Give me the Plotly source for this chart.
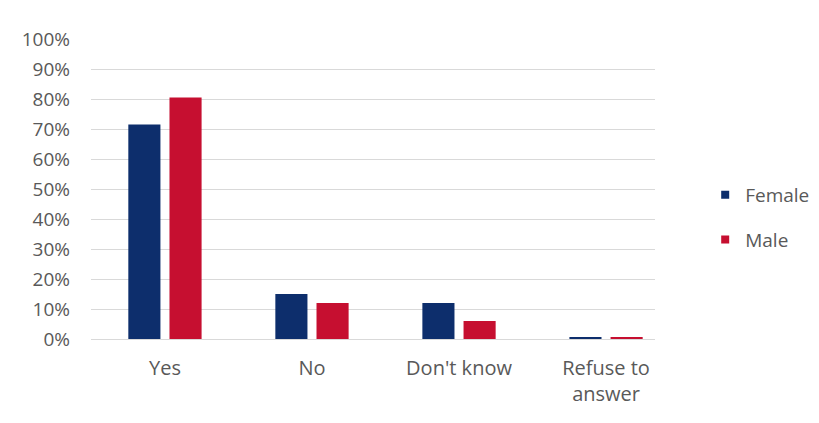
import plotly.graph_objects as go

categories = ["Yes", "No", "Don't know", "Refuse to<br>answer"]
female = [71.5, 15, 12, 0.7]
male = [80.5, 12, 6, 0.7]
y_ticks = list(range(0, 101, 10))
y_tick_labels = [f"{v}%" for v in y_ticks]

NAVY = "#0D2E6C"
RED = "#C60F30"
TEXT = "#595959"
FONT = "'Open Sans', Lato, sans-serif"

xs = list(range(len(categories)))

fig = go.Figure()
fig.add_trace(go.Bar(name="Female", x=xs, y=female, showlegend=False,
                     marker=dict(color=NAVY, line=dict(width=0))))
fig.add_trace(go.Bar(name="Male", x=xs, y=male, showlegend=False,
                     marker=dict(color=RED, line=dict(width=0))))

# small square legend keys
for name, color, grp in [("Female", NAVY, "f"), ("Male", RED, "m")]:
    fig.add_trace(go.Scatter(name=name, x=[None], y=[None], mode="markers",
                             marker=dict(symbol="square", size=8, color=color),
                             legendgroup=grp, showlegend=True))

fig.update_layout(
    width=819, height=423,
    margin=dict(l=91, r=164, t=39, b=84, autoexpand=False),
    paper_bgcolor="white", plot_bgcolor="white",
    barmode="group", bargap=0.44, bargroupgap=0.22,
    font=dict(family=FONT, size=19, color=TEXT),
    showlegend=True,
    legend=dict(x=1.089, y=0.405, xanchor="left", yanchor="middle",
                font=dict(size=19, color=TEXT), tracegroupgap=17,
                itemwidth=30, bgcolor="rgba(0,0,0,0)"),
    xaxis=dict(
        tickmode="array", tickvals=xs, ticktext=categories,
        range=[-0.503, 3.333], showgrid=False, zeroline=False, showline=False,
        ticks="", ticklabelstandoff=15, tickfont=dict(size=20, color=TEXT),
    ),
    yaxis=dict(
        range=[0, 100], tickmode="array", tickvals=y_ticks, ticktext=y_tick_labels,
        showgrid=True, gridcolor="#D9D9D9", gridwidth=1,
        zeroline=True, zerolinecolor="#D9D9D9", zerolinewidth=1,
        showline=False, ticks="", ticklabelstandoff=20,
        tickfont=dict(size=19, color=TEXT),
    ),
)

fig.write_html("out.html")
